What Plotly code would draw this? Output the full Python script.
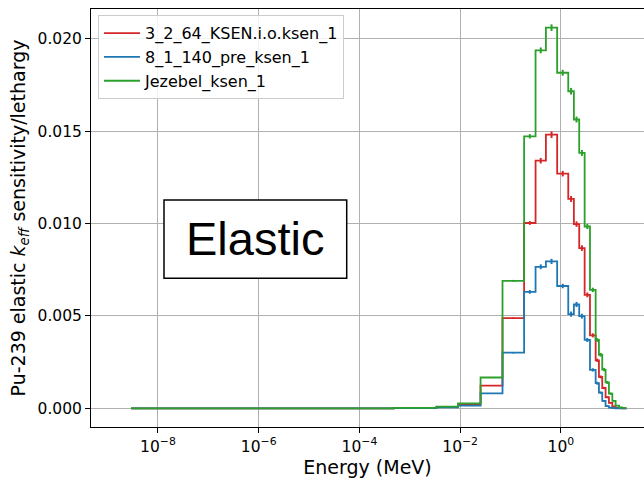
import plotly.graph_objects as go

# Group boundaries (MeV), low to high
edges = [2.92e-9, 4.79e-4, 3.38e-3, 9.08e-3, 0.0254, 0.0693, 0.186, 0.314,
         0.504, 0.843, 1.40, 1.81, 2.31, 2.96, 3.78, 4.90, 5.69, 6.62,
         7.71, 8.99, 10.5, 12.2, 14.3, 16.6, 20.0]

# Sensitivity per unit lethargy for each group
sens_3_2_64 = [0.0, 0.00002, 0.00007, 0.0002, 0.00123, 0.00488, 0.01003, 0.0134,
               0.01481, 0.0127, 0.01133, 0.00997, 0.00867, 0.00614, 0.00395, 0.0026,
               0.0017, 0.0011, 0.0006, 0.0003, 0.0001, 0.00003, 0.00001, 0.0]
sens_8_1_140 = [0.0, 0.00001, 0.00005, 0.00015, 0.00081, 0.00301, 0.00630, 0.00766,
                0.00795, 0.00662, 0.00510, 0.00562, 0.00499, 0.00370, 0.00208, 0.00136,
                0.00085, 0.00040, 0.00012, 0.00004, 0.00001, 0.0, 0.0, 0.0]
sens_jezebel = [0.0, 0.00003, 0.00009, 0.00027, 0.00167, 0.0069, 0.01472, 0.01937,
                0.0206, 0.01816, 0.01716, 0.01563, 0.01382, 0.00984, 0.00641, 0.0037,
                0.0029, 0.0021, 0.0014, 0.0008, 0.0004, 0.00015, 0.00005, 0.00002]

# One-sigma uncertainties
err_3_2_64 = [0, 0, 0, 0.00001, 0.00002, 0.00004, 0.00010, 0.00015,
              0.00018, 0.00015, 0.00016, 0.00015, 0.00015, 0.00013, 0.00011, 0.00009,
              0.00008, 0.00006, 0.00004, 0.00003, 0.00001, 0, 0, 0]
err_8_1_140 = [0, 0, 0, 0.00001, 0.00002, 0.00004, 0.00010, 0.00013,
               0.00014, 0.00012, 0.00014, 0.00014, 0.00013, 0.00011, 0.00009, 0.00008,
               0.00006, 0.00004, 0.00002, 0.00001, 0, 0, 0, 0]
err_jezebel = [0, 0, 0, 0.00001, 0.00003, 0.00005, 0.00012, 0.00016,
               0.00018, 0.00016, 0.00018, 0.00016, 0.00016, 0.00014, 0.00012, 0.0001,
               0.0001, 0.00009, 0.00008, 0.00006, 0.00004, 0.00002, 0.00001, 0]

names = ["3_2_64_KSEN.i.o.ksen_1", "8_1_140_pre_ksen_1", "Jezebel_ksen_1"]
colors = ["#d62728", "#1f77b4", "#2ca02c"]
series = [sens_3_2_64, sens_8_1_140, sens_jezebel]
errors = [err_3_2_64, err_8_1_140, err_jezebel]

FONT = "DejaVu Sans"
fig = go.Figure()

# geometric bin centres for the error bars
centres = [(edges[i] * edges[i + 1]) ** 0.5 for i in range(len(edges) - 1)]

for name, col, vals, errs in zip(names, colors, series, errors):
    fig.add_trace(go.Scatter(
        x=edges, y=list(vals) + [vals[-1]], mode="lines", line_shape="hv",
        line=dict(color=col, width=1.8), name=name))
    fig.add_trace(go.Scatter(
        x=centres, y=vals, mode="markers", marker=dict(size=1, color=col),
        error_y=dict(type="data", array=errs, color=col, thickness=2, width=0),
        showlegend=False, hoverinfo="skip"))

x_ticks = [1e-8, 1e-6, 1e-4, 1e-2, 1e0]
x_ticktext = ["10<sup>\u22128</sup>", "10<sup>\u22126</sup>", "10<sup>\u22124</sup>",
              "10<sup>\u22122</sup>", "10<sup>0</sup>"]
y_ticks = [0.0, 0.005, 0.010, 0.015, 0.020]
y_ticktext = ["0.000", "0.005", "0.010", "0.015", "0.020"]

fig.update_layout(
    width=644, height=478,
    margin=dict(l=91, r=0, t=9, b=51),
    paper_bgcolor="white", plot_bgcolor="white",
    font=dict(family=FONT, size=15.5, color="black"),
    showlegend=True,
    legend=dict(x=0.0127, y=0.985, xanchor="left", yanchor="top",
                bgcolor="rgba(255,255,255,0.85)", bordercolor="#cccccc", borderwidth=1,
                itemwidth=36, font=dict(family=FONT, size=16)),
    xaxis=dict(type="log", range=[-9.33, 1.65], tickvals=x_ticks, ticktext=x_ticktext,
               showgrid=True, gridcolor="#b0b0b0", gridwidth=1, zeroline=False,
               showline=True, linecolor="black", linewidth=1, mirror=True,
               ticks="outside", ticklen=5, tickcolor="black",
               title=dict(text="Energy (MeV)", standoff=6)),
    yaxis=dict(range=[-0.00101, 0.02161], tickvals=y_ticks, ticktext=y_ticktext,
               showgrid=True, gridcolor="#b0b0b0", gridwidth=1, zeroline=False,
               showline=True, linecolor="black", linewidth=1, mirror=False,
               ticks="outside", ticklen=5, tickcolor="black",
               title=dict(text="Pu-239 elastic <i>k</i><sub><i>eff</i></sub> sensitivity/lethargy",
                          standoff=6)),
)

# boxed label
fig.add_shape(type="rect", xref="paper", yref="paper",
              x0=0.132, x1=0.4624, y0=0.3557, y1=0.543,
              line=dict(color="black", width=1.5), fillcolor="white", layer="above")
fig.add_annotation(xref="paper", yref="paper", x=0.297, y=0.45, text="Elastic",
                   showarrow=False, xanchor="center", yanchor="middle",
                   font=dict(family="Liberation Sans", size=47, color="black"))

fig.write_html("out.html")
